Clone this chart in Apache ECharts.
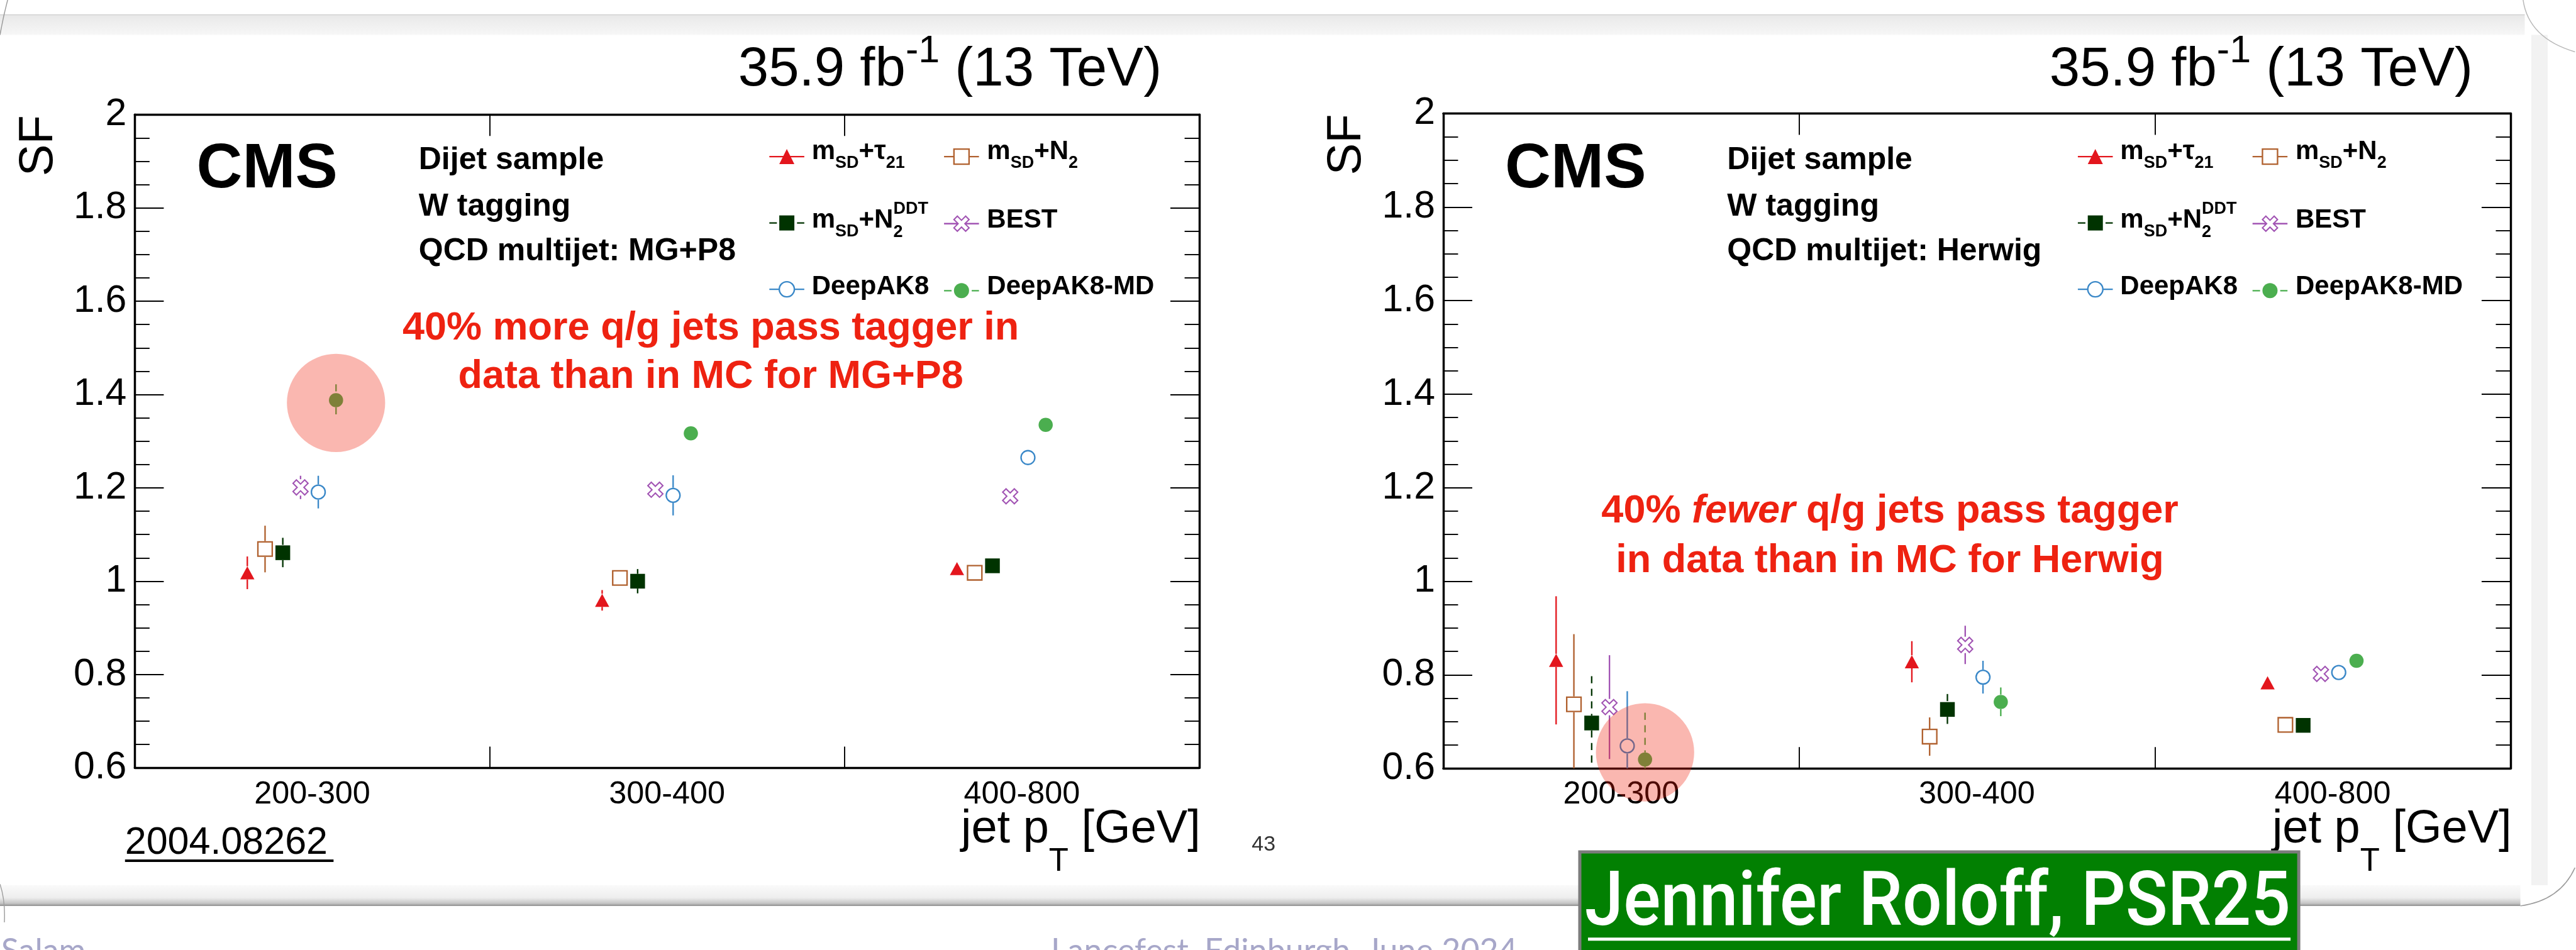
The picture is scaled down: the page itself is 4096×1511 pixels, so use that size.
<!DOCTYPE html>
<html>
<head>
<meta charset="utf-8">
<title>W tagging scale factors in dijet events</title>
<script src="https://cdn.jsdelivr.net/npm/echarts@6/dist/echarts.min.js"></script>
<style>
  html, body { margin: 0; padding: 0; background: #ffffff; overflow: hidden; }
  #chart { width: 4096px; height: 1511px; }
</style>
</head>
<body>
<div id="chart"></div>
<script>
// ---------------- data ----------------
const ptBins = ['200-300', '300-400', '400-800'];
const yRange = { min: 0.6, max: 2.0, step: 0.2 };

// QCD multijet: MG+P8
const sfMgTau21     = [1.018, 0.959, 1.027];
const errMgTau21    = [0.035, 0.022, 0.008];
const sfMgN2        = [1.069, 1.007, 1.018];
const errMgN2       = [0.050, 0.010, 0.010];
const sfMgN2DDT     = [1.061, 1.000, 1.033];
const errMgN2DDT    = [0.032, 0.026, 0.010];
const sfMgBEST      = [1.201, 1.196, 1.182];
const errMgBEST     = [0.025, 0.010, 0.010];
const sfMgDeepAK8   = [1.191, 1.184, 1.265];
const errMgDeepAK8  = [0.035, 0.043, 0.010];
const sfMgDeepAK8MD = [1.388, 1.317, 1.335];
const errMgDeepAK8MD= [0.034, 0.010, 0.010];

// QCD multijet: Herwig
const sfHwTau21     = [0.831, 0.828, 0.783];
const errHwTau21    = [0.137, 0.044, 0.008];
const sfHwN2        = [0.737, 0.668, 0.693];
const errHwN2       = [0.150, 0.041, 0.010];
const sfHwN2DDT     = [0.697, 0.726, 0.692];
const errHwN2DDT    = [0.100, 0.033, 0.010];
const sfHwBEST      = [0.731, 0.864, 0.802];
const errHwBEST     = [0.111, 0.041, 0.010];
const sfHwDeepAK8   = [0.648, 0.795, 0.805];
const errHwDeepAK8  = [0.117, 0.035, 0.010];
const sfHwDeepAK8MD = [0.619, 0.742, 0.830];
const errHwDeepAK8MD= [0.100, 0.031, 0.010];

// ---------------- layout & style ----------------
const S = 0.868;                 // drawing scale
const u = v => v * S;
const ROOT_FONT = '"Liberation Sans", Arial, Helvetica, sans-serif';
const SLIDE_FONT = 'Lato, "Open Sans", sans-serif';
const RED = '#EE2211';
const MID = 0.3465;              // em-middle to baseline, Liberation Sans

const measureCtx = document.createElement('canvas').getContext('2d');
function textWidth(str, font) { measureCtx.font = font; return measureCtx.measureText(str).width; }

const BEST_PATH = 'path://M0,-4.5L5.5,-10L10,-5.5L4.5,0L10,5.5L5.5,10L0,4.5L-5.5,10L-10,5.5L-4.5,0L-10,-5.5L-5.5,-10Z';

const taggers = [
  { key: 'tau21',     color: '#E3161D', fill: '#E3161D', symbol: 'triangle', size: [u(26), u(24)], bw: 0,      half: u(12),   dash: false,
    label: '{m|m}{s|SD}{m|+τ}{s|21}' },
  { key: 'n2',        color: '#B0612F', fill: '#FFFFFF', symbol: 'rect',     size: u(26.3),         bw: u(2.7), half: u(14.5), dash: false,
    label: '{m|m}{s|SD}{m|+N}{s|2}' },
  { key: 'n2ddt',     color: '#003300', fill: '#003300', symbol: 'rect',     size: u(27),           bw: 0,      half: u(13.5), dash: true,
    label: '{m|m}{s|SD}{m|+N}{k|2}{p|DDT}' },
  { key: 'best',      color: '#A153B3', fill: '#FFFFFF', symbol: BEST_PATH,  size: u(27.5),         bw: u(2.4), half: u(15),   dash: false,
    label: '{m|BEST}' },
  { key: 'deepak8',   color: '#3A88C8', fill: '#FFFFFF', symbol: 'circle',   size: u(25.3),         bw: u(2.7), half: u(14),   dash: false,
    label: '{m|DeepAK8}' },
  { key: 'deepak8md', color: '#4BAE4F', fill: '#4BAE4F', symbol: 'circle',   size: u(26),           bw: 0,      half: u(13),   dash: true,
    label: '{m|DeepAK8-MD}' }
];
const byKey = {};
taggers.forEach(t => { byKey[t.key] = t; });

const panels = [
  {
    sf:  [sfMgTau21, sfMgN2, sfMgN2DDT, sfMgBEST, sfMgDeepAK8, sfMgDeepAK8MD],
    err: [errMgTau21, errMgN2, errMgN2DDT, errMgBEST, errMgDeepAK8, errMgDeepAK8MD],
    sample: 'QCD multijet: MG+P8',
    box: { l: 247, t: 210, r: 2197, b: 1407 },
    note: ['{r|40% more q/g jets pass tagger in}', '{r|data than in MC for MG+P8}'],
    noteX: 1055, noteBase: [627, 716],
    ringShift: 5
  },
  {
    sf:  [sfHwTau21, sfHwN2, sfHwN2DDT, sfHwBEST, sfHwDeepAK8, sfHwDeepAK8MD],
    err: [errHwTau21, errHwN2, errHwN2DDT, errHwBEST, errHwDeepAK8, errHwDeepAK8MD],
    sample: 'QCD multijet: Herwig',
    box: { l: 2644, t: 208, r: 4599, b: 1408 },
    note: ['{r|40% }{i|fewer}{r| q/g jets pass tagger}', '{r|in data than in MC for Herwig}'],
    noteX: 818, noteBase: [963, 1054],
    ringShift: -13
  }
];

// markers of one bin sit side by side, left to right in tagger order
const binX = (bin, k) => bin + 0.317 + 0.05 * k;

// ---------------- legend ----------------
const LEG_M = 42, LEG_S = 27;
const legendRows = [287, 412, 535];
const legendCols = [
  { keys: ['tau21', 'n2ddt', 'deepak8'], icon: 1161, text: 1240 },
  { keys: ['n2', 'best', 'deepak8md'],   icon: 1481, text: 1561 }
];
const subTwoW = textWidth('2', 'bold ' + LEG_S + 'px ' + ROOT_FONT);
const legendRich = {
  m: { fontSize: LEG_M, fontWeight: 'bold', fontFamily: ROOT_FONT, fill: '#000', lineHeight: LEG_M, verticalAlign: 'top', padding: [20, 0, 0, 0] },
  s: { fontSize: LEG_S, fontWeight: 'bold', fontFamily: ROOT_FONT, fill: '#000', lineHeight: LEG_S, verticalAlign: 'top', padding: [45.7, 0, 0, 0] },
  k: { fontSize: LEG_S, fontWeight: 'bold', fontFamily: ROOT_FONT, fill: '#000', lineHeight: LEG_S, verticalAlign: 'top', padding: [47, -subTwoW, 0, 0] },
  p: { fontSize: LEG_S, fontWeight: 'bold', fontFamily: ROOT_FONT, fill: '#000', lineHeight: LEG_S, verticalAlign: 'top', padding: [10, 0, 0, 0] }
};

// icons come from the legend component, entry texts are drawn as graphics
function legendColumn(panel, col) {
  return {
    orient: 'vertical',
    left: u(panel.box.l + col.icon),
    top: u(legendRows[0]) - 15,
    padding: 0,
    itemWidth: u(64),
    itemHeight: 30,
    itemGap: u(legendRows[1] - legendRows[0]) - 30,
    selectedMode: false,
    textStyle: { fontSize: 1, color: 'rgba(0,0,0,0)' },
    formatter: () => '',
    data: col.keys.map(k => {
      const t = byKey[k];
      return {
        name: k,
        itemStyle: { color: t.fill, borderColor: t.color, borderWidth: t.bw, opacity: 1 },
        lineStyle: { color: t.color, width: u(2.7), type: t.dash ? [12, 10] : 'solid', opacity: 1 }
      };
    })
  };
}

// ---------------- axes ----------------
const frameLine = { show: true, onZero: false, lineStyle: { color: '#000', width: u(4) } };

function xAxes(gi) {
  const tick = { show: true, inside: true, length: u(39), customValues: [1, 2], lineStyle: { color: '#000', width: u(2.2) } };
  return [
    { type: 'value', gridIndex: gi, min: 0, max: 3, position: 'bottom', axisLine: frameLine, axisTick: tick,
      axisLabel: { show: true, customValues: [0.5, 1.5, 2.5], formatter: v => ptBins[Math.floor(v)],
        margin: u(20), fontSize: u(58), color: '#000', fontFamily: ROOT_FONT },
      splitLine: { show: false } },
    { type: 'value', gridIndex: gi, min: 0, max: 3, position: 'top', axisLine: frameLine, axisTick: tick,
      axisLabel: { show: false }, splitLine: { show: false } }
  ];
}
function yAxes(gi) {
  const base = {
    type: 'value', gridIndex: gi, min: yRange.min, max: yRange.max, interval: yRange.step,
    axisLine: frameLine,
    axisTick: { show: true, inside: true, length: u(53), lineStyle: { color: '#000', width: u(2.2) } },
    minorTick: { show: true, splitNumber: 4, length: u(27), lineStyle: { color: '#000', width: u(2.2) } },
    splitLine: { show: false }, minorSplitLine: { show: false }
  };
  return [
    Object.assign({}, base, { position: 'left',
      axisLabel: { show: true, margin: u(15), fontSize: u(70), color: '#000', fontFamily: ROOT_FONT } }),
    Object.assign({}, base, { position: 'right', axisLabel: { show: false } })
  ];
}

// ---------------- series ----------------
function errorBars(t) {
  return function (params, api) {
    const x = api.value(0), y = api.value(1), e = api.value(2);
    const c = api.coord([x, y]);
    const yTop = api.coord([x, Math.min(y + e, yRange.max)])[1];
    const yBot = api.coord([x, Math.max(y - e, yRange.min)])[1];
    const style = { stroke: t.color, lineWidth: u(2.7), lineDash: t.dash ? [u(13), u(10)] : null, fill: null };
    const parts = [];
    if (c[1] - t.half > yTop + 0.5) {
      parts.push({ type: 'line', shape: { x1: c[0], y1: yTop, x2: c[0], y2: c[1] - t.half }, style: style });
    }
    if (yBot > c[1] + t.half + 0.5) {
      parts.push({ type: 'line', shape: { x1: c[0], y1: c[1] + t.half, x2: c[0], y2: yBot }, style: style });
    }
    return { type: 'group', children: parts };
  };
}

const series = [];
panels.forEach((panel, p) => {
  taggers.forEach((t, k) => {
    series.push({
      type: 'line', name: t.key, xAxisIndex: 2 * p, yAxisIndex: 2 * p,
      data: panel.sf[k].map((v, i) => [binX(i, k), v]),
      symbol: t.symbol, symbolSize: t.size, showSymbol: true, showAllSymbol: true,
      lineStyle: { width: 0, opacity: 0 },
      itemStyle: { color: t.fill, borderColor: t.color, borderWidth: t.bw, opacity: 1 },
      emphasis: { disabled: true }, z: 3, animation: false
    });
    series.push({
      type: 'custom', name: t.key + '-unc', xAxisIndex: 2 * p, yAxisIndex: 2 * p,
      data: panel.sf[k].map((v, i) => [binX(i, k), v, panel.err[k][i]]),
      encode: { x: 0, y: 1 },
      renderItem: errorBars(t), silent: true, z: 2, animation: false
    });
  });
  // highlight ring on the DeepAK8-MD point of the lowest pT bin
  series.push({
    type: 'scatter', name: 'highlight', xAxisIndex: 2 * p, yAxisIndex: 2 * p,
    data: [[binX(0, 5), panel.sf[5][0]]],
    symbol: 'circle', symbolSize: u(180), symbolOffset: [0, u(panel.ringShift)],
    itemStyle: { color: 'rgba(238,30,10,0.40)' },
    clip: false, silent: true, z: 10, animation: false
  });
});

// ---------------- text & page graphics ----------------
const graphics = [];

// page edges around the slide
graphics.push(
  { type: 'rect', shape: { x: 0, y: u(27), width: u(4625), height: u(37) }, silent: true,
    style: { fill: new echarts.graphic.LinearGradient(0, 0, 0, 1, [{ offset: 0, color: '#E8E8E8' }, { offset: 1, color: '#F7F7F7' }]) } },
  { type: 'line', shape: { x1: 0, y1: u(27), x2: u(4625), y2: u(27) }, silent: true, style: { stroke: '#D2D2D2', lineWidth: 1.5 } },
  { type: 'bezierCurve', shape: { x1: u(14), y1: 0, cpx1: u(6), cpy1: u(30), x2: 0, y2: u(64) }, silent: true, style: { stroke: '#9A9A9A', lineWidth: 1.5, fill: null } },
  { type: 'rect', shape: { x: u(4637), y: u(64), width: u(30), height: u(1558) }, silent: true, style: { fill: '#F2F2F2' } },
  { type: 'bezierCurve', shape: { x1: u(4622), y1: 0, cpx1: u(4632), cpy1: u(70), x2: u(4717), y2: u(95) }, silent: true, style: { stroke: '#B8B8B8', lineWidth: 1.5, fill: null } },
  { type: 'rect', shape: { x: 0, y: u(1622), width: u(4617), height: u(38) }, silent: true,
    style: { fill: new echarts.graphic.LinearGradient(0, 0, 0, 1, [
      { offset: 0, color: '#FAFAFA' }, { offset: 0.6, color: '#EEEEEE' }, { offset: 0.88, color: '#C4C4C4' }, { offset: 1, color: '#8E8E8E' }]) } },
  { type: 'bezierCurve', shape: { x1: u(4617), y1: u(1660), cpx1: u(4690), cpy1: u(1650), x2: u(4717), y2: u(1590) }, silent: true, style: { stroke: '#9C9C9C', lineWidth: 1.5, fill: null } },
  { type: 'bezierCurve', shape: { x1: 0, y1: u(1620), cpx1: u(10), cpy1: u(1650), x2: u(8), y2: u(1690) }, silent: true, style: { stroke: '#A0A0A0', lineWidth: 1.5, fill: null } }
);

function baselineText(str, x, base, size, extra) {
  return {
    type: 'text', x: x, y: base - MID * size, silent: true,
    style: Object.assign({ text: str, fontSize: size, fontFamily: ROOT_FONT, fill: '#000', align: 'left', verticalAlign: 'middle' }, extra || {})
  };
}

panels.forEach(panel => {
  const b = panel.box;
  // luminosity / energy
  graphics.push({
    type: 'text', x: u(b.r - 69), y: u(164) - (17 + 43.5 + MID * 87), silent: true,
    style: {
      text: '{a|35.9 fb}{e|-1}{a| (13 TeV)}', align: 'right', verticalAlign: 'top',
      rich: {
        a: { fontSize: 87, fontFamily: ROOT_FONT, fill: '#000', lineHeight: 87, verticalAlign: 'top', padding: [17, 0, 0, 0] },
        e: { fontSize: 61, fontFamily: ROOT_FONT, fill: '#000', lineHeight: 61, verticalAlign: 'top', padding: [0, 0, 0, 0] }
      }
    }
  });
  // y-axis title
  graphics.push({
    type: 'text', x: u(b.l - 176), y: u(b.t + 1), rotation: Math.PI / 2, silent: true,
    style: { text: 'SF', fontSize: 76, fontFamily: ROOT_FONT, fill: '#000', align: 'right', verticalAlign: 'middle' }
  });
  // x-axis title
  graphics.push({
    type: 'text', x: u(b.r + 2), y: u(1550) - (37 + MID * 74), silent: true,
    style: {
      text: '{a|jet p}{t|T}{a| [GeV]}', align: 'right', verticalAlign: 'top',
      rich: {
        a: { fontSize: 74, fontFamily: ROOT_FONT, fill: '#000', lineHeight: 74, verticalAlign: 'top' },
        t: { fontSize: 51, fontFamily: ROOT_FONT, fill: '#000', lineHeight: 51, verticalAlign: 'top', padding: [62.4, 0, 0, 0] }
      }
    }
  });
  // experiment and selection labels
  graphics.push(baselineText('CMS', u(b.l + 113), u(352), 101, { fontWeight: 'bold' }));
  graphics.push(baselineText('Dijet sample', u(b.l + 520), u(313.5), 50, { fontWeight: 'bold' }));
  graphics.push(baselineText('W tagging', u(b.l + 520), u(399.5), 50, { fontWeight: 'bold' }));
  graphics.push(baselineText(panel.sample, u(b.l + 520), u(481.6), 50, { fontWeight: 'bold' }));
  // legend entry texts, main baseline a little below the icon centre
  legendCols.forEach(col => {
    col.keys.forEach((k, r) => {
      graphics.push({
        type: 'text', x: u(b.l + col.text), y: u(legendRows[r]) + 7 - (20 + LEG_M / 2 + MID * LEG_M), silent: true,
        style: { text: byKey[k].label, align: 'left', verticalAlign: 'top', rich: legendRich }
      });
    });
  });
  // red remarks
  panel.note.forEach((line, i) => {
    graphics.push({
      type: 'text', x: u(b.l + panel.noteX), y: u(panel.noteBase[i]) - MID * 63, silent: true,
      style: {
        text: line, align: 'center', verticalAlign: 'middle', fill: RED,
        rich: {
          r: { fontSize: 63, fontWeight: 'bold', fontFamily: ROOT_FONT, fill: RED },
          i: { fontSize: 63, fontWeight: 'bold', fontStyle: 'italic', fontFamily: ROOT_FONT, fill: RED }
        }
      }
    });
  });
});

// slide furniture
graphics.push(baselineText('2004.08262', u(229), u(1570), 61, { fill: '#000' }));
graphics.push({ type: 'rect', shape: { x: u(229), y: u(1575), width: u(382), height: 4 }, silent: true, style: { fill: '#000' } });
graphics.push(baselineText('43', u(2293), u(1561), 34, { fill: '#333' }));
graphics.push({ type: 'text', x: u(2), y: u(1723) - 8, silent: true,
  style: { text: 'Salam', fontSize: 52, fontFamily: SLIDE_FONT, fill: '#A7A7C9', align: 'left', verticalAlign: 'top' } });
graphics.push({ type: 'text', x: u(1925), y: u(1723) - 8, silent: true,
  style: { text: 'Lancefest, Edinburgh, June 2024', fontSize: 52, fontFamily: SLIDE_FONT, fill: '#A7A7C9', align: 'left', verticalAlign: 'top' } });

// speaker tag
const tagFont = '500 121px Roboto';
const tagText = 'Jennifer Roloff, PSR25';
const tagScale = u(1293) / textWidth(tagText, tagFont);
graphics.push(
  { type: 'rect', z: 100, shape: { x: u(2894), y: u(1561), width: u(1317), height: 220 }, silent: true,
    style: { fill: '#028002', stroke: '#7C7C7C', lineWidth: 5 } },
  { type: 'text', z: 101, x: u(2903), y: u(1707) - 0.3415 * 121, scaleX: tagScale, silent: true,
    style: { text: tagText, fontSize: 121, fontWeight: 500, fontFamily: 'Roboto', fill: '#FFFFFF', align: 'left', verticalAlign: 'middle' } },
  { type: 'rect', z: 101, shape: { x: u(2909), y: u(1718), width: u(1287), height: 5 }, silent: true, style: { fill: '#FFFFFF' } }
);

// ---------------- chart ----------------
const grids = panels.map(panel => ({
  left: u(panel.box.l), top: u(panel.box.t),
  width: u(panel.box.r - panel.box.l), height: u(panel.box.b - panel.box.t),
  containLabel: false
}));

const legends = [];
panels.forEach(panel => {
  legendCols.forEach(col => legends.push(legendColumn(panel, col)));
});

const chart = echarts.init(document.getElementById('chart'), null, { renderer: 'canvas', width: 4096, height: 1511 });
chart.setOption({
  animation: false,
  backgroundColor: '#FFFFFF',
  textStyle: { fontFamily: ROOT_FONT },
  grid: grids,
  xAxis: [].concat(xAxes(0), xAxes(1)),
  yAxis: [].concat(yAxes(0), yAxes(1)),
  legend: legends,
  series: series,
  graphic: { elements: graphics }
});
</script>
</body>
</html>
